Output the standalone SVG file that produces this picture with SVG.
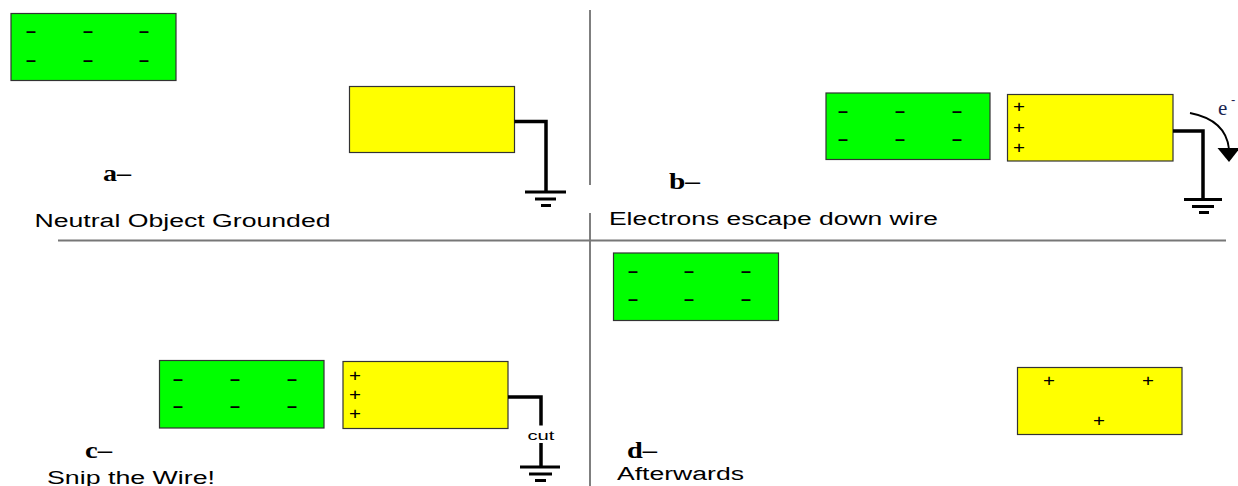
<svg xmlns="http://www.w3.org/2000/svg" width="1238" height="486" viewBox="0 0 1238 486">
<style>
.g{fill:#00ff00;stroke:#333;stroke-width:1.2}
.y{fill:#ffff00;stroke:#333;stroke-width:1.2}
.m{font-family:"Liberation Sans",Arial,sans-serif;font-size:18px;font-weight:bold;fill:#000;text-anchor:middle}
.p{font-family:"Liberation Sans",Arial,sans-serif;font-size:16px;fill:#000;text-anchor:middle}
.w{fill:none;stroke:#000;stroke-width:3.5}
.gnd{stroke:#000;stroke-width:3}
.lbl{font-family:"Liberation Serif","Times New Roman",serif;font-weight:bold;font-size:24px;fill:#000}
.cap{font-family:"Liberation Sans",Arial,sans-serif;font-size:18px;fill:#000}
.div{stroke:#555;stroke-width:1.5}
</style>
<rect width="1238" height="486" fill="#fff"/>
<g id="dividers">
<line class="div" x1="590" y1="10" x2="590" y2="185"/>
<line class="div" x1="590" y1="213" x2="590" y2="486"/>
<line x1="58" y1="240.5" x2="1226" y2="240.5" stroke="#777" stroke-width="1.8"/>
</g>
<g id="panel-a">
<g id="a-green">
<rect class="g" x="11" y="13.5" width="165" height="67"/>
<text class="m" x="31" y="37">–</text><text class="m" x="88" y="37">–</text><text class="m" x="144" y="37">–</text>
<text class="m" x="31" y="65.5">–</text><text class="m" x="88" y="65.5">–</text><text class="m" x="144" y="65.5">–</text>
</g>
<g id="a-yellow"><rect class="y" x="349.5" y="86.5" width="165" height="66"/></g>
<text class="lbl" x="103" y="181" textLength="28" lengthAdjust="spacingAndGlyphs">a–</text>
<text class="cap" x="34.5" y="227" textLength="296" lengthAdjust="spacingAndGlyphs">Neutral Object Grounded</text>
</g>
<g id="panel-b">
<g id="b-green">
<rect class="g" x="826" y="93" width="164" height="66.5"/>
<text class="m" x="843" y="116.5">–</text><text class="m" x="900" y="116.5">–</text><text class="m" x="957" y="116.5">–</text>
<text class="m" x="843" y="144.5">–</text><text class="m" x="900" y="144.5">–</text><text class="m" x="957" y="144.5">–</text>
</g>
<g id="b-yellow">
<rect class="y" x="1007.5" y="94.5" width="165.5" height="66.5"/>
<text class="p" x="1019" y="111.5" textLength="12" lengthAdjust="spacingAndGlyphs">+</text>
<text class="p" x="1019" y="132.5" textLength="12" lengthAdjust="spacingAndGlyphs">+</text>
<text class="p" x="1019" y="152.5" textLength="12" lengthAdjust="spacingAndGlyphs">+</text>
</g>
<text class="lbl" x="669" y="189" textLength="31" lengthAdjust="spacingAndGlyphs">b–</text>
<text class="cap" x="609" y="225" textLength="329" lengthAdjust="spacingAndGlyphs">Electrons escape down wire</text>
<g id="b-electron">
<text x="1218" y="114.5" font-family="Liberation Serif,'Times New Roman',serif" font-size="21" fill="#1a2550">e</text>
<text x="1231" y="104" font-family="Liberation Sans,Arial,sans-serif" font-size="13" fill="#1a2550">-</text>
</g>
</g>
<g id="panel-c">
<g id="c-green">
<rect class="g" x="159.5" y="360.5" width="164.5" height="67.5"/>
<text class="m" x="178" y="384.5">–</text><text class="m" x="235" y="384.5">–</text><text class="m" x="292" y="384.5">–</text>
<text class="m" x="178" y="412">–</text><text class="m" x="235" y="412">–</text><text class="m" x="292" y="412">–</text>
</g>
<g id="c-yellow">
<rect class="y" x="343" y="361.5" width="165" height="67"/>
<text class="p" x="355" y="380.5" textLength="12" lengthAdjust="spacingAndGlyphs">+</text>
<text class="p" x="355" y="399.5" textLength="12" lengthAdjust="spacingAndGlyphs">+</text>
<text class="p" x="355" y="418.5" textLength="12" lengthAdjust="spacingAndGlyphs">+</text>
</g>
<text x="541" y="439.5" font-family="Liberation Sans,Arial,sans-serif" font-size="13" fill="#000" text-anchor="middle" textLength="27" lengthAdjust="spacingAndGlyphs">cut</text>
<text class="lbl" x="85" y="458" textLength="27" lengthAdjust="spacingAndGlyphs">c–</text>
<text class="cap" x="47" y="484" textLength="168" lengthAdjust="spacingAndGlyphs">Snip the Wire!</text>
</g>
<g id="panel-d">
<g id="d-green">
<rect class="g" x="613.5" y="253" width="165" height="67.5"/>
<text class="m" x="633" y="276.5">–</text><text class="m" x="689" y="276.5">–</text><text class="m" x="746" y="276.5">–</text>
<text class="m" x="633" y="304.5">–</text><text class="m" x="689" y="304.5">–</text><text class="m" x="746" y="304.5">–</text>
</g>
<g id="d-yellow">
<rect class="y" x="1017.5" y="367.5" width="164.5" height="67"/>
<text class="p" x="1049" y="385.5" textLength="12" lengthAdjust="spacingAndGlyphs">+</text>
<text class="p" x="1148" y="385.5" textLength="12" lengthAdjust="spacingAndGlyphs">+</text>
<text class="p" x="1099" y="425.5" textLength="12" lengthAdjust="spacingAndGlyphs">+</text>
</g>
<text class="lbl" x="627" y="458" textLength="30" lengthAdjust="spacingAndGlyphs">d–</text>
<text class="cap" x="617" y="480" textLength="127" lengthAdjust="spacingAndGlyphs">Afterwards</text>
</g>
<g id="connectors">
<path class="w" d="M514.5 121.5H546V192"/>
<line class="gnd" x1="525" y1="192" x2="566" y2="192"/>
<line class="gnd" x1="535" y1="199" x2="556" y2="199"/>
<line class="gnd" x1="541" y1="205.5" x2="551" y2="205.5"/>
<path class="w" d="M1173 131H1203V199"/>
<line class="gnd" x1="1184" y1="199.5" x2="1222" y2="199.5"/>
<line class="gnd" x1="1192" y1="206.5" x2="1214" y2="206.5"/>
<line class="gnd" x1="1199" y1="212.5" x2="1209" y2="212.5"/>
<path d="M1190 113Q1226 120 1229 149" fill="none" stroke="#000" stroke-width="1.8"/>
<polygon points="1217.5,148 1240,148 1229,162" fill="#000"/>
<path class="w" d="M508 397H541V425.5"/>
<path class="w" d="M541 443V467"/>
<line class="gnd" x1="520" y1="467" x2="560" y2="467"/>
<line class="gnd" x1="529" y1="474" x2="552" y2="474"/>
<line class="gnd" x1="535" y1="480.5" x2="546" y2="480.5"/>
</g>
</svg>
